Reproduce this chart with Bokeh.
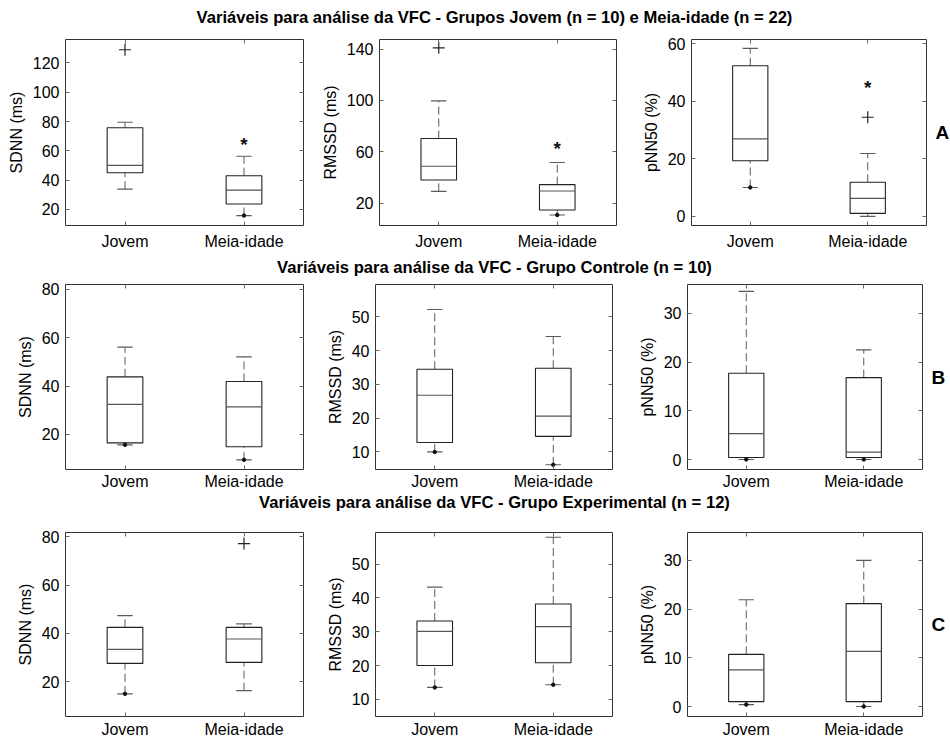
from bokeh.plotting import figure
from bokeh.layouts import column, row
from bokeh.models import Range1d, FixedTicker, LinearAxis, Label
from bokeh.embed import file_html
from bokeh.resources import INLINE
from bokeh.core.properties import value

# ---------------- data ----------------
row_titles = [
    "Variáveis para análise da VFC - Grupos Jovem (n = 10) e Meia-idade (n = 22)",
    "Variáveis para análise da VFC - Grupo Controle (n = 10)",
    "Variáveis para análise da VFC - Grupo Experimental (n = 12)",
]
row_letters = ["A", "B", "C"]
variables = ["SDNN (ms)", "RMSSD (ms)", "pNN50 (%)"]
categories = ["Jovem", "Meia-idade"]
category_x = [1, 2]

# panels in row-major order (A: SDNN, RMSSD, pNN50; B: ...; C: ...), each [Jovem, Meia-idade]
whisker_low = [[33.8, 15.8], [29.1, 10.7], [10.0, 0.0],
               [15.7, 9.5], [10.0, 6.2], [0.0, 0.0],
               [15.0, 16.3], [13.5, 14.3], [0.4, 0.0]]
box_q1 = [[45.0, 23.7], [38.0, 14.6], [19.3, 1.0],
          [16.5, 14.9], [12.8, 14.6], [0.4, 0.4],
          [27.6, 28.0], [20.0, 20.8], [1.0, 1.0]]
box_median = [[50.0, 33.2], [48.7, 29.4], [26.9, 6.2],
              [32.4, 31.4], [26.8, 20.6], [5.3, 1.5],
              [33.4, 37.7], [30.1, 31.5], [7.5, 11.3]]
box_q3 = [[75.7, 43.0], [70.3, 34.4], [52.3, 11.8],
          [43.8, 41.9], [34.5, 34.8], [17.7, 16.8],
          [42.5, 42.5], [33.2, 38.2], [10.7, 21.1]]
whisker_high = [[79.5, 56.3], [99.6, 51.6], [58.3, 21.8],
                [56.1, 52.1], [52.2, 44.2], [34.5, 22.5],
                [47.4, 44.0], [43.2, 58.0], [21.9, 30.0]]
# lower-whisker end markers present (1) or not (0)
low_dot = [[0, 1], [0, 1], [1, 0],
           [1, 1], [1, 1], [1, 1],
           [1, 0], [1, 1], [1, 1]]
# outliers "+"
outlier_panel = [0, 1, 2, 6]
outlier_group = [1, 1, 2, 2]
outlier_value = [129.0, 141.0, 34.4, 77.2]
# significance asterisks (Meia-idade, row A)
sig_panel = [0, 1, 2]
sig_group = [2, 2, 2]
sig_value = [65.2, 63.3, 45.1]

y_limits = [(9, 136), (2.5, 147.5), (-3.2, 61.4),
            (5.5, 82), (4.8, 59.6), (-2.05, 35.9),
            (5.6, 81.8), (4.9, 59.4), (-2.05, 35.7)]
y_ticks = [[20, 40, 60, 80, 100, 120], [20, 60, 100, 140], [0, 20, 40, 60],
           [20, 40, 60, 80], [10, 20, 30, 40, 50], [0, 10, 20, 30],
           [20, 40, 60, 80], [10, 20, 30, 40, 50], [0, 10, 20, 30]]

# ---------------- layout / style ----------------
FONT = "Liberation Sans"
FW = [238, 237, 235]
ML = [65, 57, 58]
MR = [15, 17, 28]
FH = [186, 185, 184]
MT = [11, 5, 6]
MB = [30, 21, 22]
XSTAND = [7, 3, 4]
TITLE_H = [28, 24, 34]
TITLE_Y = [11, 12, 24]
TITLE_X = 494

BOX_W = 0.30
CAP_W = 0.13
BOX_COL = "#222222"
MED_COL = "#555555"
WHISK_COL = "#5a5a5a"
TICK_COL = "#666666"


def style_axis(ax):
    ax.major_tick_in = 4
    ax.major_tick_out = 0
    ax.minor_tick_line_color = None
    ax.axis_line_color = None
    ax.major_tick_line_color = TICK_COL
    ax.major_label_text_font = FONT
    ax.major_label_text_font_size = "16px"
    ax.major_label_text_color = "#000000"
    ax.axis_label_text_font = FONT
    ax.axis_label_text_font_size = "16px"
    ax.axis_label_text_font_style = "normal"
    ax.axis_label_text_color = "#000000"


def mirror_axis(ax):
    # tick marks only, no labels drawn
    style_axis(ax)
    ax.major_label_text_font_size = "0px"
    ax.major_label_text_color = None
    ax.major_label_standoff = 0


def make_panel(i):
    r, c = divmod(i, 3)
    p = figure(frame_width=FW[c], frame_height=FH[r],
               x_range=Range1d(0.5, 2.5), y_range=Range1d(*y_limits[i]),
               output_backend="svg", toolbar_location=None,
               min_border_left=ML[c], min_border_right=MR[c],
               min_border_top=MT[r], min_border_bottom=MB[r])
    p.grid.visible = False
    p.outline_line_color = "#333333"
    p.outline_line_width = 1
    p.background_fill_color = "white"
    p.border_fill_color = "white"

    xa = p.xaxis[0]
    xa.ticker = FixedTicker(ticks=category_x)
    xa.major_label_overrides = {x: lab for x, lab in zip(category_x, categories)}
    style_axis(xa)
    xa.major_label_standoff = XSTAND[r]

    ya = p.yaxis[0]
    ya.ticker = FixedTicker(ticks=y_ticks[i])
    style_axis(ya)
    ya.axis_label = variables[c]
    ya.major_label_standoff = 6
    ya.axis_label_standoff = 5

    top = LinearAxis(ticker=FixedTicker(ticks=category_x))
    mirror_axis(top)
    p.add_layout(top, "above")

    right = LinearAxis(ticker=FixedTicker(ticks=y_ticks[i]))
    mirror_axis(right)
    if c == 2:
        right.axis_label = row_letters[r]
        right.axis_label_orientation = "horizontal"
        right.axis_label_text_font_size = "19px"
        right.axis_label_text_font_style = "bold"
        right.axis_label_standoff = 9
    p.add_layout(right, "right")

    lo, q1, md, q3, hi = whisker_low[i], box_q1[i], box_median[i], box_q3[i], whisker_high[i]
    xs = category_x
    # whiskers
    p.segment(x0=xs, y0=q3, x1=xs, y1=hi, line_color=WHISK_COL, line_width=1, line_dash="8 4")
    p.segment(x0=xs, y0=lo, x1=xs, y1=q1, line_color=WHISK_COL, line_width=1, line_dash="8 4")
    # caps
    p.segment(x0=[x - CAP_W / 2 for x in xs], y0=hi, x1=[x + CAP_W / 2 for x in xs], y1=hi,
              line_color=WHISK_COL, line_width=1.2)
    p.segment(x0=[x - CAP_W / 2 for x in xs], y0=lo, x1=[x + CAP_W / 2 for x in xs], y1=lo,
              line_color=WHISK_COL, line_width=1.2)
    # boxes
    p.quad(left=[x - BOX_W / 2 for x in xs], right=[x + BOX_W / 2 for x in xs],
           bottom=q1, top=q3, fill_color=None, line_color=BOX_COL, line_width=1.1)
    # medians
    p.segment(x0=[x - BOX_W / 2 for x in xs], y0=md, x1=[x + BOX_W / 2 for x in xs], y1=md,
              line_color=MED_COL, line_width=1.2)
    # lower-end dots
    dx = [x for x, f in zip(xs, low_dot[i]) if f]
    dy = [y for y, f in zip(lo, low_dot[i]) if f]
    if dx:
        p.scatter(dx, dy, marker="circle", size=3.5, fill_color="#111111", line_color="#111111")
    # outliers
    ox = [g for pnl, g in zip(outlier_panel, outlier_group) if pnl == i]
    oy = [v for pnl, v in zip(outlier_panel, outlier_value) if pnl == i]
    if ox:
        p.scatter(ox, oy, marker="cross", size=12, line_color="#222222", line_width=1.2)
    # significance asterisks
    sx = [g for pnl, g in zip(sig_panel, sig_group) if pnl == i]
    sy = [v for pnl, v in zip(sig_panel, sig_value) if pnl == i]
    if sx:
        p.text(x=sx, y=sy, text=["*"] * len(sx), text_align="center", text_baseline="alphabetic",
               y_offset=1, text_font=value(FONT), text_font_size="19px",
               text_font_style="bold", text_color="#111111")
    return p


def make_title(r):
    t = figure(width=950, height=TITLE_H[r], x_range=Range1d(0, 950),
               y_range=Range1d(0, TITLE_H[r]), output_backend="svg",
               toolbar_location=None, min_border=0,
               x_axis_location=None, y_axis_location=None)
    t.grid.visible = False
    t.outline_line_color = None
    t.add_layout(Label(x=TITLE_X, y=TITLE_Y[r], text=row_titles[r], text_align="center",
                       text_baseline="middle", text_font=FONT, text_font_size="16.6px",
                       text_font_style="bold", text_color="#000000"))
    return t


items = []
for r in range(3):
    items.append(make_title(r))
    items.append(row(*[make_panel(r * 3 + c) for c in range(3)], spacing=0))

layout = column(*items, spacing=0)

open("out.html", "w").write(file_html(layout, INLINE))
